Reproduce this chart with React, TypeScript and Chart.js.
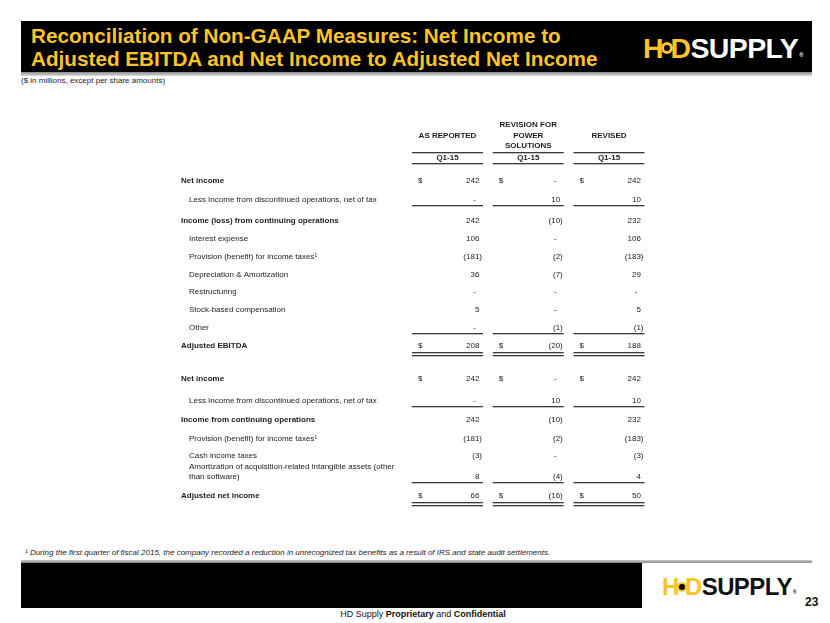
import React, { useEffect, useRef } from "react";
import { Chart, registerables } from "chart.js";

Chart.register(...registerables);

// ---------------- DATA ----------------
const COLUMN_HEADINGS = ["AS REPORTED", "REVISION FOR\nPOWER\nSOLUTIONS", "REVISED"];
const PERIOD_LABEL = "Q1-15";

const ROW_LABELS = [
  "Net income",
  "Less Income from discontinued operations, net of tax",
  "Income (loss) from continuing operations",
  "Interest expense",
  "Provision (benefit) for income taxes\u00B9",
  "Depreciation & Amortization",
  "Restructuring",
  "Stock-based compensation",
  "Other",
  "Adjusted EBITDA",
  "Net income",
  "Less Income from discontinued operations, net of tax",
  "Income from continuing operations",
  "Provision (benefit) for income taxes\u00B9",
  "Cash income taxes",
  "Amortization of acquisition-related intangible assets (other\nthan software)",
  "Adjusted net income",
];

const AS_REPORTED = [242, 0, 242, 106, -181, 36, 0, 5, 0, 208, 242, 0, 242, -181, -3, 8, 66];
const REVISION = [0, 10, -10, 0, -2, -7, 0, 0, -1, -20, 0, 10, -10, -2, 0, -4, -16];
const REVISED = [242, 10, 232, 106, -183, 29, 0, 5, -1, 188, 242, 10, 232, -183, -3, 4, 50];

const BOLD_ROWS = [0, 2, 9, 10, 12, 16];
const DOLLAR_ROWS = [0, 9, 10, 16];
const SINGLE_RULE_ROWS = [1, 8, 11, 15];
const DOUBLE_RULE_ROWS = [9, 16];

const TITLE_LINES = [
  "Reconciliation of Non-GAAP Measures: Net Income to",
  "Adjusted EBITDA and Net Income to Adjusted Net Income",
];
const SUBTITLE = "($ in millions, except per share amounts)";
const FOOTNOTE =
  "\u00B9 During the first quarter of fiscal 2015, the company recorded a reduction in unrecognized tax benefits as a result of IRS and state audit settlements.";
const PAGE_NUMBER = "23";

// ---------------- LAYOUT / STYLE ----------------
const YELLOW = "#FCC426";
const FONT = "'Liberation Sans', Arial, Helvetica, sans-serif";
const TEXT = "#1c1c1c";

const CANVAS_LEFT = 160;
const CANVAS_TOP = 110;
const CANVAS_W = 510;
const CANVAS_H = 405;

const COL_PX = 80.75; // px per column unit
const COL1_CENTER_PX = 447.5;
const X_MIN = 1 - (COL1_CENTER_PX - CANVAS_LEFT) / COL_PX;
const X_MAX = X_MIN + CANVAS_W / COL_PX;
const LABEL_X = X_MIN + (181 - CANVAS_LEFT) / COL_PX;
const INDENT_X = X_MIN + (189 - CANVAS_LEFT) / COL_PX;
const HALF_COL = 35.5 / COL_PX;

const ROW_PX = 18;
const FIRST_ROW_PX = 181;
const Y_MIN = -(FIRST_ROW_PX - CANVAS_TOP) / ROW_PX;
const Y_MAX = Y_MIN + CANVAS_H / ROW_PX;
// vertical advance (in row units) before each row
const ROW_ADVANCE = [0, 1.06, 1.17, 1, 1, 1, 0.94, 1, 1, 1, 1.83, 1.22, 1.06, 1.06, 0.94, 1.17, 1.06];
const ROW_POS: number[] = [];
ROW_ADVANCE.reduce((acc, a) => {
  const v = acc + a;
  ROW_POS.push(v);
  return v;
}, 0);

const HEAD_CENTER = -2.53;
const HEAD_LINE_GAP = 0.59;
const PERIOD_Y = -1.28;
const PERIOD_RULE_TOP = -1.61;
const PERIOD_RULE_BOTTOM = -1.0;

const SERIES = [AS_REPORTED, REVISION, REVISED];

function fmt(v: number): string {
  if (v === 0) return "-";
  if (v < 0) return "(" + Math.abs(v) + ")";
  return String(v);
}

function rule(ctx: CanvasRenderingContext2D, x1: number, x2: number, y: number, w = 1) {
  ctx.fillStyle = "#3a3a3a";
  ctx.fillRect(x1, Math.round(y), x2 - x1, w);
  ctx.fillStyle = "rgba(150,150,150,0.6)";
  ctx.fillRect(x1, Math.round(y) + w, x2 - x1, 1);
}

const tablePlugin = {
  id: "tableText",
  afterDatasetsDraw(chart: any) {
    const ctx: CanvasRenderingContext2D = chart.ctx;
    const xs = chart.scales.x;
    const ys = chart.scales.y;
    ctx.save();
    ctx.textBaseline = "middle";
    ctx.fillStyle = TEXT;

    // column headings
    COLUMN_HEADINGS.forEach((h, c) => {
      const lines = h.split("\n");
      const cx = xs.getPixelForValue(c + 1);
      const l = xs.getPixelForValue(c + 1 - HALF_COL);
      const r = xs.getPixelForValue(c + 1 + HALF_COL);
      ctx.font = `bold 8px ${FONT}`;
      ctx.textAlign = "center";
      ctx.fillStyle = TEXT;
      lines.forEach((ln, k) => {
        const yv = HEAD_CENTER + (k - (lines.length - 1) / 2) * HEAD_LINE_GAP;
        ctx.fillText(ln, cx, ys.getPixelForValue(yv));
      });
      rule(ctx, l, r, ys.getPixelForValue(PERIOD_RULE_TOP), 1);
      ctx.fillStyle = TEXT;
      ctx.fillText(PERIOD_LABEL, cx, ys.getPixelForValue(PERIOD_Y));
      rule(ctx, l, r, ys.getPixelForValue(PERIOD_RULE_BOTTOM), 1);
    });

    // row labels
    const meta0 = chart.getDatasetMeta(0);
    ROW_LABELS.forEach((label, i) => {
      const el = meta0.data[i];
      const bold = BOLD_ROWS.includes(i);
      const lx = xs.getPixelForValue(bold ? LABEL_X : INDENT_X);
      ctx.font = `${bold ? "bold " : ""}8px ${FONT}`;
      ctx.textAlign = "left";
      ctx.fillStyle = TEXT;
      const lines = label.split("\n");
      lines.forEach((ln, k) => {
        ctx.fillText(ln, lx, el.y - (lines.length - 1 - k) * 10.5);
      });
    });

    // values
    ctx.font = `8px ${FONT}`;
    const parenW = ctx.measureText(")").width;
    SERIES.forEach((vals, c) => {
      const meta = chart.getDatasetMeta(c);
      meta.data.forEach((el: any, i: number) => {
        const l = xs.getPixelForValue(c + 1 - HALF_COL);
        const r = xs.getPixelForValue(c + 1 + HALF_COL);
        const v = vals[i];
        ctx.fillStyle = TEXT;
        ctx.font = `8px ${FONT}`;
        ctx.textAlign = "right";
        const s = fmt(v);
        if (v === 0) ctx.fillText(s, r - 7, el.y);
        else if (v < 0) ctx.fillText(s, r - 1, el.y);
        else ctx.fillText(s, r - 1 - parenW, el.y);
        if (DOLLAR_ROWS.includes(i)) {
          ctx.textAlign = "left";
          ctx.fillText("$", l + 6, el.y);
        }
        if (SINGLE_RULE_ROWS.includes(i)) rule(ctx, l, r, el.y + 5, 1);
        if (DOUBLE_RULE_ROWS.includes(i)) {
          rule(ctx, l, r, el.y + 6, 1);
          rule(ctx, l, r, el.y + 9, 1);
        }
      });
    });
    ctx.restore();
  },
};

// title horizontal compression to mimic a narrow bold face
function titleScale(): number {
  try {
    const c = document.createElement("canvas").getContext("2d")!;
    c.font = `bold 21px ${FONT}`;
    const w = c.measureText(TITLE_LINES[1]).width;
    return w > 0 ? 568 / w : 0.85;
  } catch {
    return 0.85;
  }
}

function Logo({ size, color, left, top }: { size: number; color: string; left: number; top: number }) {
  return (
    <div
      style={{
        position: "absolute",
        left,
        top,
        fontSize: size,
        lineHeight: 1,
        fontWeight: 900,
        fontFamily: FONT,
        letterSpacing: -0.6,
        whiteSpace: "nowrap",
        display: "flex",
        alignItems: "center",
      }}
    >
      <span style={{ color: YELLOW }}>H</span>
      <span
        style={{
          display: "inline-block",
          width: size * 0.42,
          height: size * 0.42,
          borderRadius: "50%",
          background: "#000",
          border: `${size * 0.12}px solid ${YELLOW}`,
          boxSizing: "border-box",
          margin: `0 ${-size * 0.08}px`,
          position: "relative",
          zIndex: 1,
        }}
      />
      <span style={{ color: YELLOW }}>D</span>
      <span style={{ color }}>SUPPLY</span>
      <span style={{ color, fontSize: size * 0.2, alignSelf: "center", marginLeft: 1, marginTop: size * 0.5 }}>®</span>
    </div>
  );
}

export default function App() {
  const canvasRef = useRef<HTMLCanvasElement>(null);

  useEffect(() => {
    if (!canvasRef.current) return;
    const chart = new Chart(canvasRef.current, {
      type: "scatter",
      data: {
        datasets: SERIES.map((vals, c) => ({
          label: COLUMN_HEADINGS[c].replace(/\n/g, " "),
          data: vals.map((_, i) => ({ x: c + 1, y: ROW_POS[i] })),
          pointRadius: 0,
          pointHoverRadius: 0,
        })),
      },
      options: {
        animation: false,
        responsive: false,
        events: [],
        layout: { padding: 0 },
        plugins: { legend: { display: false }, tooltip: { enabled: false }, title: { display: false } },
        scales: {
          x: { type: "linear", min: X_MIN, max: X_MAX, display: false },
          y: { type: "linear", min: Y_MIN, max: Y_MAX, reverse: true, display: false },
        },
      },
      plugins: [tablePlugin],
    } as any);
    return () => chart.destroy();
  }, []);

  const k = titleScale();

  return (
    <div
      style={{
        position: "fixed",
        left: 0,
        top: 0,
        width: 830,
        height: 623,
        background: "#fff",
        overflow: "hidden",
        fontFamily: FONT,
      }}
    >
      {/* header */}
      <div style={{ position: "absolute", left: 21, top: 21, width: 791, height: 51, background: "#000" }} />
      <div
        style={{
          position: "absolute",
          left: 21,
          top: 72,
          width: 791,
          height: 4,
          background: "linear-gradient(#8c8c8c, #dcdcdc)",
        }}
      />
      <div
        style={{
          position: "absolute",
          left: 31,
          top: 24,
          color: YELLOW,
          fontWeight: "bold",
          fontSize: 21,
          lineHeight: "23px",
          whiteSpace: "nowrap",
          transform: `scaleX(${k})`,
          transformOrigin: "left top",
        }}
      >
        {TITLE_LINES.map((t) => (
          <div key={t}>{t}</div>
        ))}
      </div>
      <Logo size={28.5} color="#fff" left={643} top={34} />
      <div style={{ position: "absolute", left: 21, top: 76, fontSize: 8, lineHeight: "10px", color: TEXT }}>
        {SUBTITLE}
      </div>

      {/* table drawn with Chart.js */}
      <canvas
        ref={canvasRef}
        width={CANVAS_W}
        height={CANVAS_H}
        style={{ position: "absolute", left: CANVAS_LEFT, top: CANVAS_TOP, width: CANVAS_W, height: CANVAS_H }}
      />

      {/* footer */}
      <div
        style={{
          position: "absolute",
          left: 25,
          top: 548,
          fontSize: 8,
          lineHeight: "10px",
          fontStyle: "italic",
          color: TEXT,
          whiteSpace: "nowrap",
        }}
      >
        {FOOTNOTE}
      </div>
      <div
        style={{
          position: "absolute",
          left: 21,
          top: 560,
          width: 791,
          height: 3,
          background: "linear-gradient(#c8c8c8, #8a8a8a)",
        }}
      />
      <div style={{ position: "absolute", left: 21, top: 563, width: 621, height: 45, background: "#000" }} />
      <Logo size={24} color="#111" left={662} top={575} />
      <div
        style={{
          position: "absolute",
          left: 805,
          top: 595,
          fontSize: 12,
          lineHeight: "14px",
          fontWeight: "bold",
          color: "#111",
        }}
      >
        {PAGE_NUMBER}
      </div>
      <div
        style={{
          position: "absolute",
          left: 273,
          top: 609,
          width: 300,
          textAlign: "center",
          fontSize: 9,
          lineHeight: "11px",
          color: "#111",
          whiteSpace: "nowrap",
        }}
      >
        HD Supply <b>Proprietary</b> and <b>Confidential</b>
      </div>
    </div>
  );
}
